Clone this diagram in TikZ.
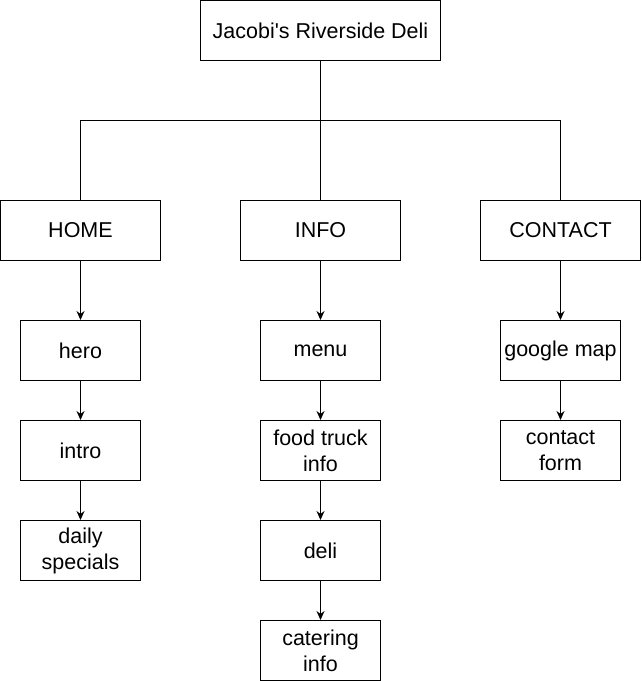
\documentclass[tikz,border=0pt]{standalone}
\usepackage{fontspec}
\setmainfont{Liberation Sans}
\usetikzlibrary{arrows.meta}
\begin{document}
\begin{tikzpicture}[x=1pt,y=-1pt,
  box/.style={draw,line width=1pt,fill=white,inner sep=0pt,align=center,
    font=\fontsize{21.5}{26}\selectfont},
  bigbox/.style={box,minimum width=160pt,minimum height=60pt},
  topbox/.style={box,minimum width=240pt,minimum height=60pt},
  smallbox/.style={box,minimum width=120pt,minimum height=60pt},
  link/.style={line width=1pt},
  arr/.style={line width=1pt,-{Stealth[length=9pt,width=8pt]}}]
\useasboundingbox (0,0) rectangle (641,681);
\node[topbox] (root) at (320.5,30.5) {Jacobi\textquotesingle s Riverside Deli};
\node[bigbox] (home) at (80.5,230.5) {HOME};
\node[bigbox] (info) at (320.5,230.5) {INFO};
\node[bigbox] (contact) at (560.5,230.5) {CONTACT};
\node[smallbox] (hero) at (80.5,350.5) {hero};
\node[smallbox] (intro) at (80.5,450.5) {intro};
\node[smallbox] (daily) at (80.5,550.5) {daily\\specials};
\node[smallbox] (menu) at (320.5,350.5) {menu};
\node[smallbox] (truck) at (320.5,450.5) {food truck\\info};
\node[smallbox] (deli) at (320.5,550.5) {deli};
\node[smallbox] (catering) at (320.5,650.5) {catering\\info};
\node[smallbox] (map) at (560.5,350.5) {google map};
\node[smallbox] (form) at (560.5,450.5) {contact\\form};
\coordinate (j) at (320.5,120.5);
\draw[link] (root.south) -- (j);
\draw[link] (j) -| (home.north);
\draw[link] (j) -- (info.north);
\draw[link] (j) -| (contact.north);
\draw[arr] (home) -- (hero);
\draw[arr] (hero) -- (intro);
\draw[arr] (intro) -- (daily);
\draw[arr] (info) -- (menu);
\draw[arr] (menu) -- (truck);
\draw[arr] (truck) -- (deli);
\draw[arr] (deli) -- (catering);
\draw[arr] (contact) -- (map);
\draw[arr] (map) -- (form);
\end{tikzpicture}
\end{document}
